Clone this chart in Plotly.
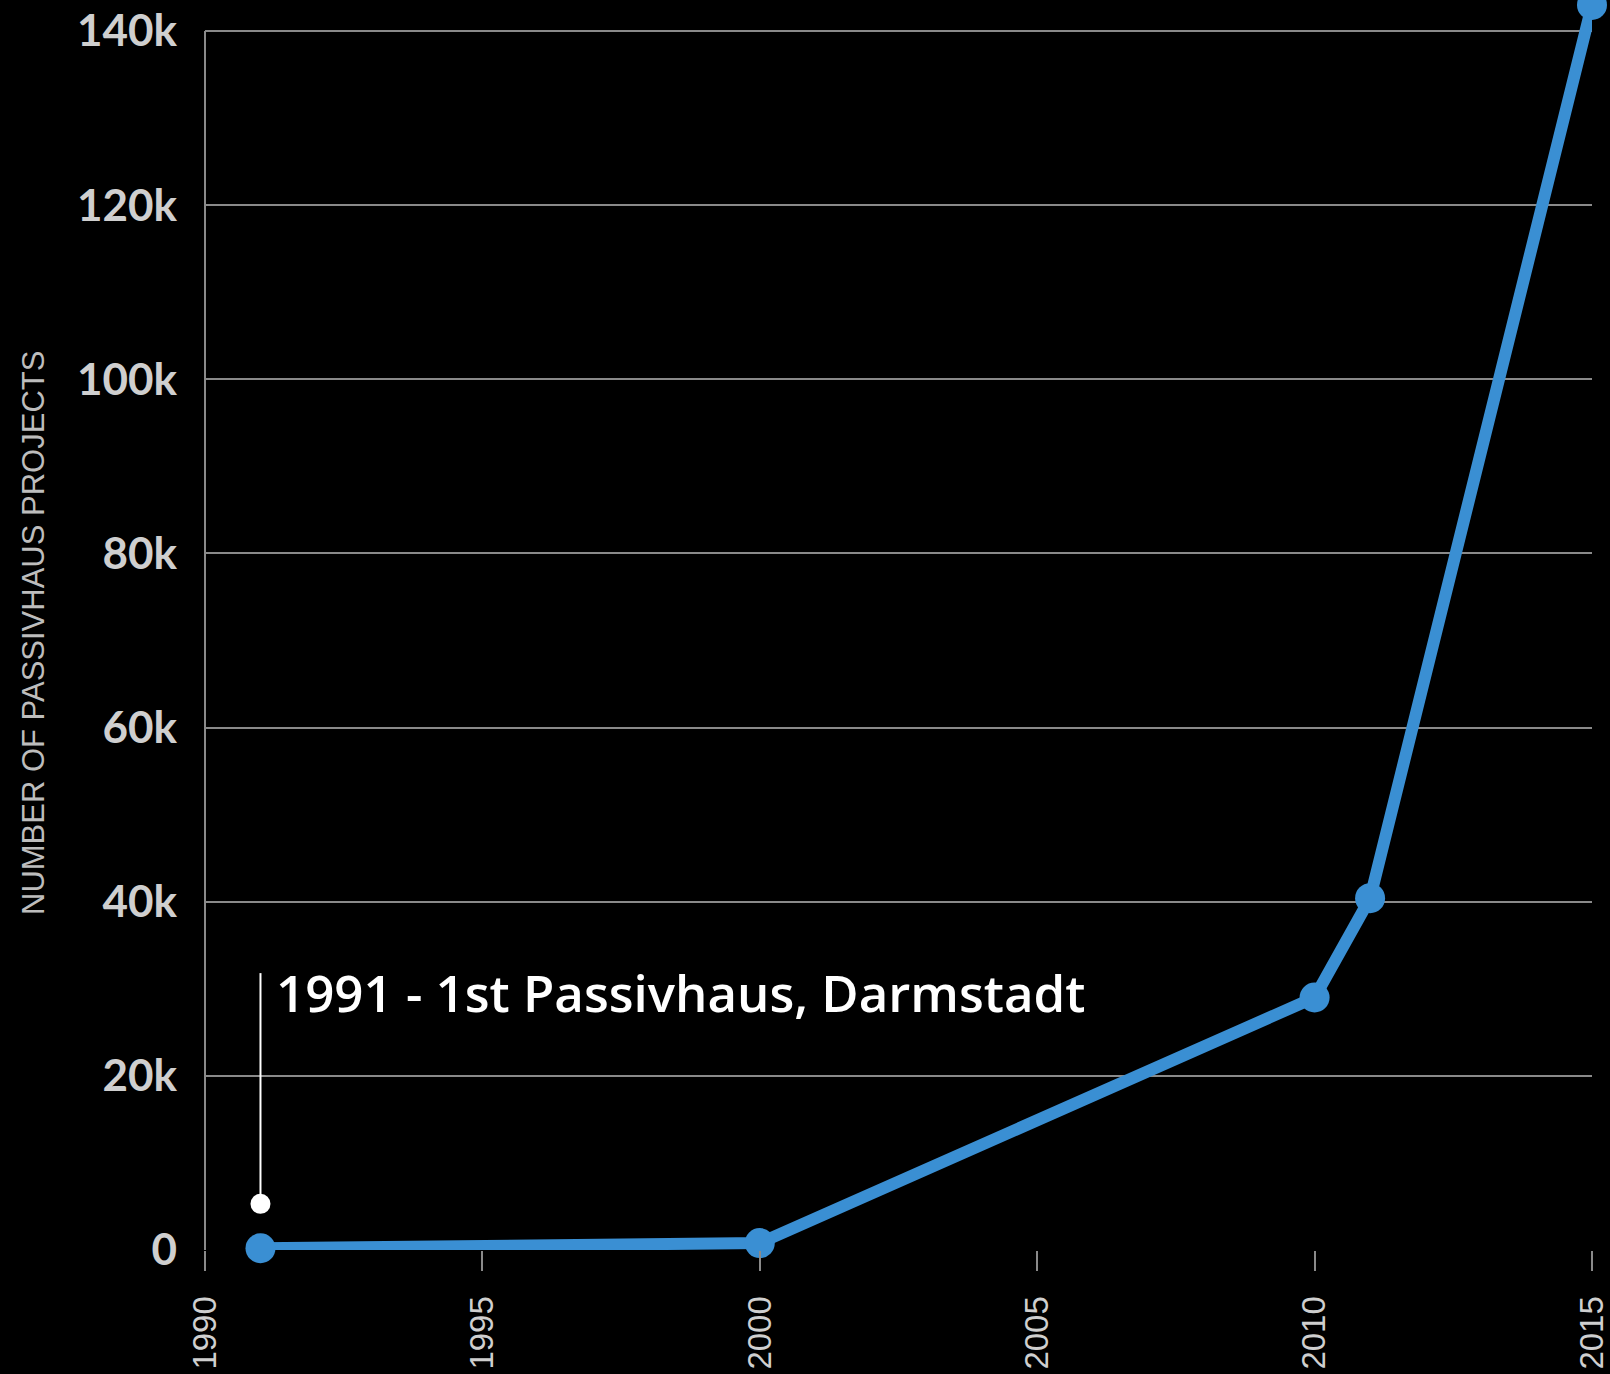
import plotly.graph_objects as go

years = [1991, 2000, 2010, 2011, 2015]
projects = [200, 800, 29000, 40400, 143000]

marker_year = [1991, 1991]
marker_vals = [5300, 31800]
annotation_text = "1991 - 1st Passivhaus, Darmstadt"
annotation_pos = (1991.25, 29600)

y_ticks = [0, 20000, 40000, 60000, 80000, 100000, 120000, 140000]
y_labels = ["0", "20k", "40k", "60k", "80k", "100k", "120k", "140k"]
x_ticks = [1990, 1995, 2000, 2005, 2010, 2015]

BLUE = "#3A8FD3"
GRID = "#8a8a8a"
TICK = "#cfcfcf"

fig = go.Figure()
fig.add_trace(go.Scatter(
    x=years, y=projects, mode="lines+markers",
    line=dict(color=BLUE, width=12),
    marker=dict(color=BLUE, size=30),
    cliponaxis=False, showlegend=False, hoverinfo="x+y"))
fig.add_trace(go.Scatter(
    x=marker_year, y=marker_vals, mode="lines",
    line=dict(color="white", width=2), showlegend=False, hoverinfo="skip"))
fig.add_trace(go.Scatter(
    x=marker_year[:1], y=marker_vals[:1], mode="markers",
    marker=dict(color="white", size=20), showlegend=False, hoverinfo="skip"))

fig.add_annotation(
    x=annotation_pos[0], y=annotation_pos[1], xref="x", yref="y",
    text=annotation_text, showarrow=False, xanchor="left", yanchor="middle",
    font=dict(family="Open Sans", size=51, color="white", weight=600))

fig.add_annotation(
    x=-0.124, y=0.4936, xref="paper", yref="paper",
    text="NUMBER OF PASSIVHAUS PROJECTS", showarrow=False, textangle=-90,
    xanchor="center", yanchor="middle",
    font=dict(family="Liberation Sans", size=31, color="#bdbdbd"))

# y-axis line drawn only up to the top tick (140k)
fig.add_shape(type="line", xref="paper", yref="y", x0=0, x1=0,
              y0=y_ticks[0], y1=y_ticks[-1], line=dict(color=GRID, width=2),
              layer="below")

fig.update_layout(
    width=1610, height=1374,
    paper_bgcolor="black", plot_bgcolor="black",
    margin=dict(l=205, r=16, t=0, b=124),
    xaxis=dict(range=[1990, 2015], tickvals=x_ticks, ticktext=[str(v) for v in x_ticks],
               tickangle=-90, ticks="outside", ticklen=20, tickwidth=2, tickcolor=GRID,
               ticklabelstandoff=12, ticklabeloverflow="allow",
               showgrid=False, zeroline=False, showline=False,
               tickfont=dict(family="Liberation Sans", size=33, color=TICK)),
    yaxis=dict(range=[0, 143560], tickvals=y_ticks, ticktext=y_labels,
               showgrid=True, gridcolor=GRID, gridwidth=2, zeroline=False,
               showline=False,
               ticks="", ticklabelstandoff=27, ticklabeloverflow="allow",
               tickfont=dict(family="Lato", size=44, color=TICK, weight="bold")),
)

fig.write_html("out.html", config={"displayModeBar": False},
               post_script="document.body.style.margin='0';document.body.style.background='black';")
